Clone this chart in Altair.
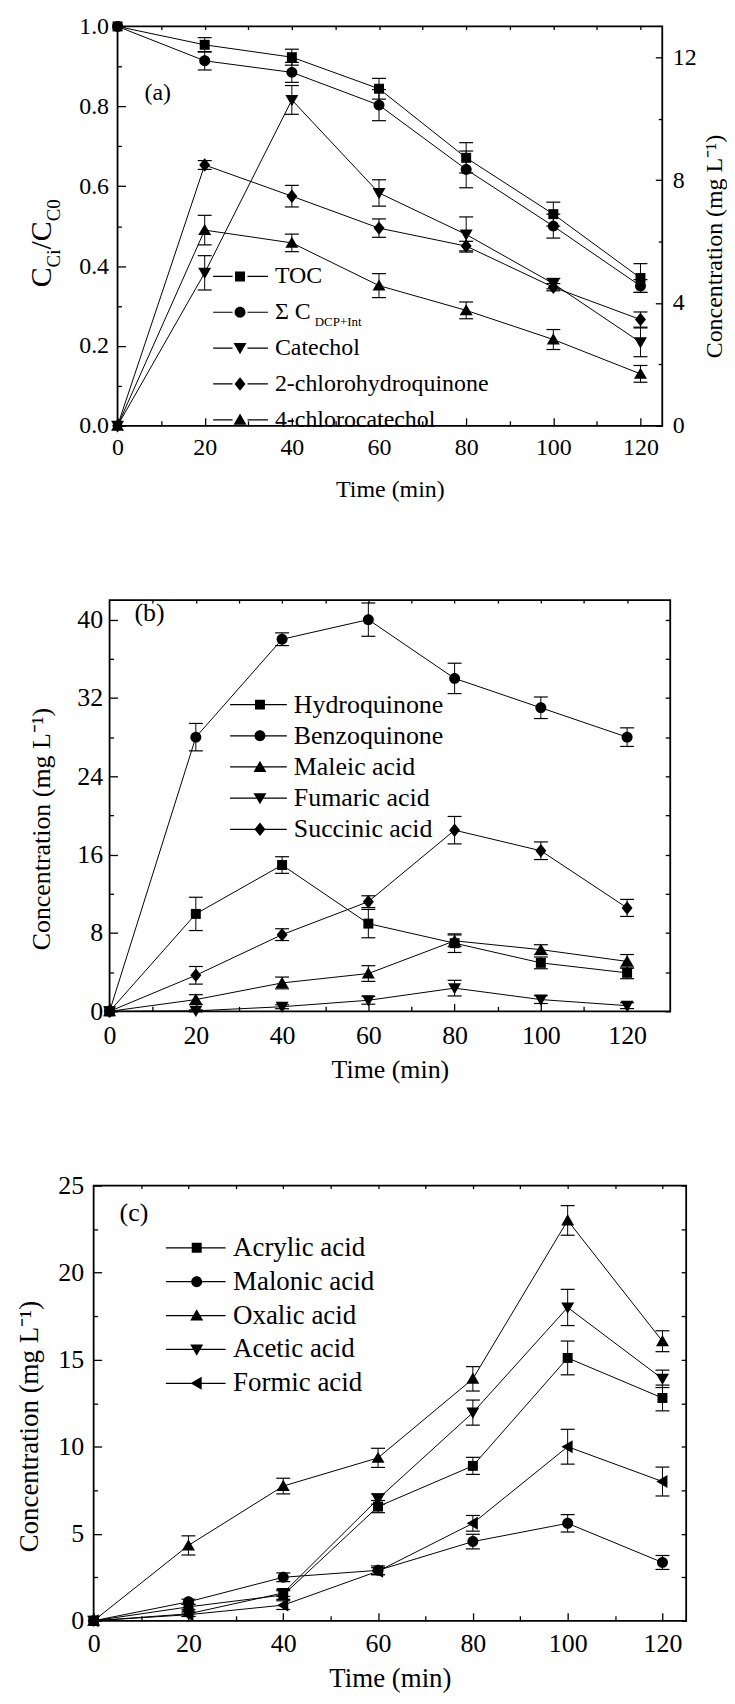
import altair as alt
import pandas as pd

FONT = "Liberation Serif"
T = [0, 20, 40, 60, 80, 100, 120]

# ---------------- panel (a) ----------------
a_names = ["TOC", "ΣC", "Catechol", "2-chlorohydroquinone", "4-chlorocatechol"]
a_labels = ["TOC", "Σ C", "Catechol", "2-chlorohydroquinone", "4-chlorocatechol"]
a_vals = [
    [1.0, 0.954, 0.923, 0.844, 0.671, 0.530, 0.370],
    [1.0, 0.914, 0.885, 0.803, 0.642, 0.500, 0.350],
    [0.0, 0.383, 0.816, 0.583, 0.479, 0.356, 0.209],
    [0.0, 0.653, 0.575, 0.495, 0.450, 0.347, 0.266],
    [0.0, 0.490, 0.458, 0.351, 0.289, 0.216, 0.130],
]
a_errs = [
    [0, 0.018, 0.020, 0.026, 0.038, 0.030, 0.036],
    [0, 0.023, 0.025, 0.039, 0.046, 0.030, 0.016],
    [0, 0.043, 0.036, 0.033, 0.044, 0.013, 0.036],
    [0, 0.011, 0.027, 0.023, 0.012, 0.009, 0.019],
    [0, 0.037, 0.022, 0.030, 0.021, 0.025, 0.021],
]
a_right_max = 13

# ---------------- panel (b) ----------------
b_names = ["Hydroquinone", "Benzoquinone", "Maleic acid", "Fumaric acid", "Succinic acid"]
b_vals = [
    [0, 9.95, 14.94, 8.96, 6.96, 4.95, 3.93],
    [0, 28.0, 38.0, 40.0, 34.0, 31.0, 28.0],
    [0, 1.2, 2.9, 3.86, 7.2, 6.3, 5.1],
    [0, 0.05, 0.47, 1.13, 2.37, 1.2, 0.58],
    [0, 3.68, 7.83, 11.2, 18.5, 16.4, 10.56],
]
b_errs = [
    [0, 1.7, 0.85, 1.45, 0.95, 0.6, 0.6],
    [0, 1.4, 0.65, 1.7, 1.55, 1.1, 0.95],
    [0, 0.5, 0.6, 0.8, 0.6, 0.5, 0.7],
    [0, 0.1, 0.2, 0.4, 0.8, 0.4, 0.3],
    [0, 0.9, 0.6, 0.6, 1.4, 0.9, 0.87],
]

# ---------------- panel (c) ----------------
c_names = ["Acrylic acid", "Malonic acid", "Oxalic acid", "Acetic acid", "Formic acid"]
c_vals = [
    [0, 0.8, 1.48, 6.56, 8.9, 15.1, 12.8],
    [0, 1.09, 2.5, 2.9, 4.55, 5.6, 3.35],
    [0, 4.33, 7.74, 9.36, 13.9, 23.0, 16.06],
    [0, 0.4, 1.6, 7.0, 11.96, 18.0, 13.9],
    [0, 0.35, 0.9, 2.85, 5.6, 10.0, 8.0],
]
c_errs = [
    [0, 0.15, 0.25, 0.35, 0.49, 0.97, 0.74],
    [0, 0.15, 0.25, 0.25, 0.42, 0.5, 0.4],
    [0, 0.55, 0.45, 0.55, 0.7, 0.85, 0.6],
    [0, 0.15, 0.2, 0.3, 0.72, 1.04, 0.5],
    [0, 0.1, 0.25, 0.2, 0.45, 1.0, 0.83],
]

# marker outlines (unit = sqrt(size)/2 px)
SQ = "M-1,-1H1V1H-1Z"
CI = "M-1.1,0A1.1,1.1,0,1,1,1.1,0A1.1,1.1,0,1,1,-1.1,0Z"
TU = "M0,-1.25L1.3,1L-1.3,1Z"
TD = "M0,1.25L-1.3,-1L1.3,-1Z"
DI = "M0,-1.35L1.1,0L0,1.35L-1.1,0Z"
TL = "M-1.25,0L1,-1.3L1,1.3Z"

ONE = pd.DataFrame({"k": [0]})

AXC = dict(labelFont=FONT, titleFont=FONT, labelColor="black", titleColor="black",
           tickColor="black", tickWidth=1.3, domain=False, grid=False, labelFlush=False,
           labelOverlap=False, titleFontWeight="normal", labelFontWeight="normal")


def AX(**kw):
    d = dict(AXC)
    d.update(kw)
    return alt.Axis(**d)


def seg(a, b):
    return f"M{a},-0.12H{b}V0.12H{a}Z"


def ex(v):
    return {"expr": str(v)}


def long_df(names, vals, errs):
    rows = []
    for n, vs, es in zip(names, vals, errs):
        for t, v, e in zip(T, vs, es):
            rows.append({"series": n, "t": t, "v": v, "lo": v - e, "hi": v + e, "e": e})
    return pd.DataFrame(rows)


def txt(s, x, y, fs, angle=None, align="left", baseline="middle"):
    kw = dict(text=s, font=FONT, fontSize=fs, color="black", align=align, baseline=baseline)
    if angle is not None:
        kw["angle"] = angle
    return alt.Chart(ONE).mark_text(**kw).encode(x=alt.value(x), y=alt.value(y))


def panel(names, vals, errs, shapes, legsegs, labels, p, extra_texts=()):
    df = long_df(names, vals, errs)
    xs = alt.Scale(domain=p["xdom"], nice=False, zero=False)
    ys = alt.Scale(domain=p["ydom"], nice=False, zero=False)
    fs = p["fs"]
    base = alt.Chart(df)

    xmaj = AX(orient="bottom", values=[0, 20, 40, 60, 80, 100, 120], format="d",
              tickSize=ex(-8), labelPadding=8 + p["xlp"], labelFontSize=fs,
              title="Time (min)", titleFontSize=p["tfs"], titlePadding=p["xtp"])
    xmin = AX(orient="bottom", values=[10, 30, 50, 70, 90, 110], tickSize=ex(-5),
              labels=False, title=None)
    xtop = AX(orient="top", values=list(range(10, 121, 10)), tickSize=ex(-3),
              labels=False, title=None)
    ykw = dict(orient="left", values=p["ymaj"], format=p["yfmt"], tickSize=ex(-8),
               labelPadding=8 + p["ylp"], labelFontSize=fs)
    if p.get("ytitle"):
        ykw.update(title=p["ytitle"], titleFontSize=p["tfs"], titlePadding=p["ytp"],
                   titleY=p["h"] / 2 + p["ydy"])
    else:
        ykw.update(title=None)
    ymaj = AX(**ykw)
    ymin = AX(orient="left", values=p["ymin"], tickSize=ex(-4), labels=False, title=None)

    if p.get("right"):
        r = p["right"]
        rmaj = AX(orient="right", values=[v / r["max"] for v in r["maj"]],
                  labelExpr=f"'' + round(datum.value * {r['max']})",
                  tickSize=ex(-7), labelPadding=7 + r["lp"], labelFontSize=fs,
                  title=r["title"], titleFontSize=p["tfs"], titleAngle=270,
                  titleBaseline="top", titlePadding=r["tp"], titleY=p["h"] / 2 + r["dy"])
        rmin = AX(orient="right", values=[v / r["max"] for v in r["min"]],
                  tickSize=ex(-4), labels=False, title=None)
    else:
        rmaj = AX(orient="right", values=p["ymaj"], tickSize=ex(-5), labels=False, title=None)
        rmin = AX(orient="right", values=p["ymin"], tickSize=ex(-5), labels=False, title=None)

    lines = base.mark_line(color="black", strokeWidth=1).encode(
        x=alt.X("t:Q", scale=xs, axis=xmaj),
        y=alt.Y("v:Q", scale=ys, axis=ymaj),
        detail="series:N",
    )
    rules = base.mark_rule(color="black", strokeWidth=1).encode(
        x=alt.X("t:Q", scale=xs, axis=xmin),
        y=alt.Y("lo:Q", scale=ys, axis=ymin),
        y2="hi:Q",
    ).transform_filter("datum.e > 0")
    cap_lo = base.mark_tick(orient="horizontal", color="black", size=14, thickness=1.2, opacity=1).encode(
        x=alt.X("t:Q", scale=xs, axis=xtop),
        y=alt.Y("lo:Q", scale=ys, axis=rmaj),
    ).transform_filter("datum.e > 0")
    cap_hi = base.mark_tick(orient="horizontal", color="black", size=14, thickness=1.2, opacity=1).encode(
        x=alt.X("t:Q", scale=xs, axis=None),
        y=alt.Y("hi:Q", scale=ys, axis=rmin),
    ).transform_filter("datum.e > 0")
    pts = base.mark_point(filled=True, opacity=1, size=100, color="black").encode(
        x=alt.X("t:Q", scale=xs, axis=None),
        y=alt.Y("v:Q", scale=ys, axis=None),
        shape=alt.Shape("series:N", scale=alt.Scale(domain=names, range=shapes), legend=None),
    )
    legpaths = [" ".join([seg(a, b) for a, b in legsegs] + [s]) for s in shapes]
    lab_expr = " : ".join(f"datum.label == '{n}' ? '{l}'" for n, l in zip(names, labels)) + " : datum.label"
    leg = base.mark_point(filled=True, opacity=1, size=100, color="black").encode(
        shape=alt.Shape("series:N", scale=alt.Scale(domain=names, range=legpaths),
                        legend=alt.Legend(orient="none", legendX=p["lx"], legendY=p["ly"],
                                          direction="vertical", title=None,
                                          labelFont=FONT, labelFontSize=p["lfs"], labelColor="black",
                                          labelFontWeight="normal",
                                          labelLimit=600, labelOffset=p["loff"], rowPadding=p["lrp"],
                                          symbolSize=100, symbolStrokeWidth=0, symbolFillColor="black",
                                          symbolOpacity=1, padding=0, labelExpr=lab_expr)),
    ).transform_filter("false")
    s, lx, ly, lfs = p["label"]
    texts = [txt(s, lx, ly, lfs)] + list(extra_texts)
    return alt.layer(lines, rules, cap_lo, cap_hi, pts, leg, *texts).resolve_scale(
        shape="independent").resolve_axis(x="independent", y="independent").properties(
        width=p["w"], height=p["h"])


pa = dict(w=547, h=401, xdom=[0, 125], ydom=[0, 1], ymaj=[0, 0.2, 0.4, 0.6, 0.8, 1.0],
          ymin=[0.1, 0.3, 0.5, 0.7, 0.9], yfmt=".1f", fs=24, tfs=24, xlp=10.1, xtp=17.5, ylp=9,
          ytitle=None, lx=111, ly=239, lfs=24, loff=23, lrp=12, label=("(a)", 27, 67, 24),
          right=dict(max=a_right_max, maj=[0, 4, 8, 12], min=[2, 6, 10], lp=10, tp=6, dy=20,
                     title="Concentration (mg L\u207b\u00b9)"))
pb = dict(w=563, h=413, xdom=[0, 130], ydom=[0, 42], ymaj=[0, 8, 16, 24, 32, 40],
          ymin=[4, 12, 20, 28, 36], yfmt="d", fs=26, tfs=26, xlp=10.9, xtp=8.5, ylp=7,
          ytitle="Concentration (mg L\u207b\u00b9)", ytp=22, ydy=23, lx=138, ly=92, lfs=26,
          loff=21, lrp=5.3, label=("(b)", 25, 13, 26))
pc = dict(w=595, h=437, xdom=[0, 125], ydom=[0, 25], ymaj=[0, 5, 10, 15, 20, 25],
          ymin=[2.5, 7.5, 12.5, 17.5, 22.5], yfmt="d", fs=26, tfs=27, xlp=9.9, xtp=9, ylp=10,
          ytitle="Concentration (mg L\u207b\u00b9)", ytp=14, ydy=23, lx=90, ly=49, lfs=27,
          loff=23, lrp=6, label=("(c)", 26, 28, 26))

# rotated y title of panel (a): C_Ci / C_C0
ADV = {"C": 0.667, "i": 0.278, "/": 0.278, "0": 0.5}
pieces = [("C", 30, -67), ("Ci", 19, -58), ("/", 30, -67), ("C", 30, -67), ("C0", 19, -58)]
a_texts = []
cur = 262
for s, f, bx in pieces:
    a_texts.append(txt(s, bx, cur, f, angle=270, baseline="alphabetic"))
    cur -= sum(ADV[ch] for ch in s) * f
a_texts.append(txt("DCP+Int", 198, 301, 13, baseline="alphabetic"))

A = panel(a_names, a_vals, a_errs, [SQ, CI, TD, DI, TU], [(-5.4, -1.5), (1.5, 5.6)], a_labels, pa, a_texts)
B = panel(b_names, b_vals, b_errs, [SQ, CI, TU, TD, DI], [(-6, 5.4)], b_names, pb)
C = panel(c_names, c_vals, c_errs, [SQ, CI, TU, TD, TL], [(-6.2, 5.8)], c_names, pc)

chart = alt.vconcat(A, B, C, spacing=175, bounds="flush", center=True).properties(
    padding={"left": 7, "top": 2, "right": 0, "bottom": 0}
).configure_view(stroke="black", strokeWidth=1.8).configure_axis(**AXC)

chart.save("out.html", embed_options={"renderer": "svg", "actions": False})
